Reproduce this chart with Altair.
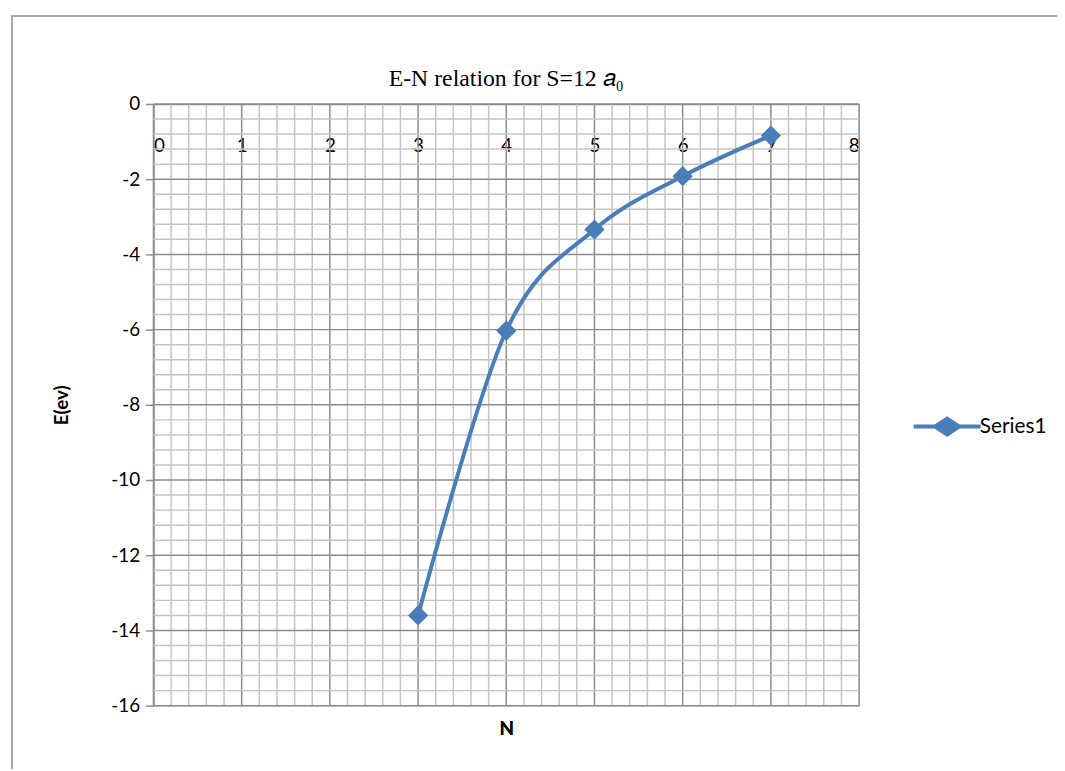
import altair as alt
import pandas as pd

# data
n_values = [3, 4, 5, 6, 7]
e_values = [-13.6, -6.03, -3.34, -1.92, -0.84]
series_name = ["Series1"] * 5

x_major_ticks = [0, 1, 2, 3, 4, 5, 6, 7, 8]
y_major_ticks = [0, -2, -4, -6, -8, -10, -12, -14, -16]
x_grid = [round(i * 0.2, 1) for i in range(41)]
y_grid = [round(-16 + i * 0.4, 1) for i in range(41)]

df = pd.DataFrame({"N": n_values, "E": e_values, "series": series_name})
xg = pd.DataFrame({"v": x_grid, "major": [abs(v - round(v)) < 1e-6 for v in x_grid]})
yg = pd.DataFrame({"v": y_grid, "major": [abs(v / 2 - round(v / 2)) < 1e-6 for v in y_grid]})

BLUE = "#4a7ebb"
MAJOR = "#8c8c8c"
MINOR = "#c4c4c4"

x_scale = alt.Scale(domain=[0, 8], nice=False, zero=False)
y_scale = alt.Scale(domain=[-16, 0], nice=False, zero=False)

x_top_axis = alt.Axis(
    orient="top", values=x_major_ticks, title=None, labelExpr="'' + datum.value",
    labelPadding=-42, labelBaseline="middle", labelFont="Lato", labelFontSize=19,
    labelColor="#000", labelOverlap=False, ticks=False,
    domain=True, domainColor=MAJOR, domainWidth=1.5, grid=False,
)
x_bottom_axis = alt.Axis(
    orient="bottom", title="N", labels=False, ticks=False, domain=False, grid=False,
    titleFont="Lato", titleFontSize=19, titleFontWeight="bold", titleColor="#000",
    titlePadding=14,
)
y_axis = alt.Axis(
    orient="left", values=y_major_ticks, title="E(ev)", labelExpr="'' + datum.value",
    labelFont="Lato", labelFontSize=19, labelColor="#000", labelPadding=6,
    labelOverlap=False, tickSize=8, tickColor=MAJOR, tickWidth=1.5,
    domain=True, domainColor=MAJOR, domainWidth=1.5, grid=False,
    titleFont="Lato", titleFontSize=19, titleFontWeight="bold", titleColor="#000",
    titleX=-93, titleY=304, titleAngle=-90, titleBaseline="middle",
)

grid_color = alt.condition("datum.major", alt.value(MAJOR), alt.value(MINOR))

xgrid = alt.Chart(xg).mark_rule(strokeWidth=1.5).encode(
    x=alt.X("v:Q", scale=x_scale, axis=x_top_axis),
    color=grid_color,
)
ygrid = alt.Chart(yg).mark_rule(strokeWidth=1.5).encode(
    y=alt.Y("v:Q", scale=y_scale, axis=y_axis),
    color=grid_color,
)

base = alt.Chart(df)

line = base.mark_line(color=BLUE, strokeWidth=4, interpolate="cardinal").encode(
    x=alt.X("N:Q", scale=x_scale, axis=x_bottom_axis),
    y=alt.Y("E:Q", scale=y_scale, axis=y_axis),
)

points = base.mark_point(shape="diamond", filled=True, size=420, opacity=1).encode(
    x=alt.X("N:Q", scale=x_scale, axis=x_bottom_axis),
    y=alt.Y("E:Q", scale=y_scale, axis=y_axis),
    fill=alt.Fill(
        "series:N",
        scale=alt.Scale(range=[BLUE]),
        legend=alt.Legend(
            title=None, orient="none", legendX=786, legendY=310,
            symbolType="M-2.5,0L2.5,0M0,-0.6L0.9,0L0,0.6L-0.9,0Z",
            symbolSize=730, symbolStrokeWidth=4, symbolStrokeColor=BLUE,
            symbolFillColor=BLUE, symbolOpacity=1,
            labelFont="Lato", labelFontSize=21, labelColor="#000", labelOffset=17,
        ),
    ),
)

frame = alt.Chart(alt.Data(values=[{"a": 1}])).mark_rect(
    fill=None, stroke="#8c8c8c", strokeWidth=1.5
).encode(
    x=alt.value(-143), x2=alt.value(1100), y=alt.value(-89), y2=alt.value(800)
)

chart = alt.layer(frame, xgrid, ygrid, line, points).properties(
    width=713, height=608,
    title=alt.TitleParams(
        "E-N relation for S=12 𝑎₀",
        font="Liberation Serif", fontSize=24, fontWeight="normal", color="#000",
        anchor="middle", offset=12, dy=89,
    ),
    autosize=alt.AutoSizeParams(type="none"),
    padding={"left": 147, "top": 93, "right": 200, "bottom": 60},
).configure_view(stroke=None).configure(background="white")

chart.save("out.html", embed_options={"renderer": "svg", "actions": False})
